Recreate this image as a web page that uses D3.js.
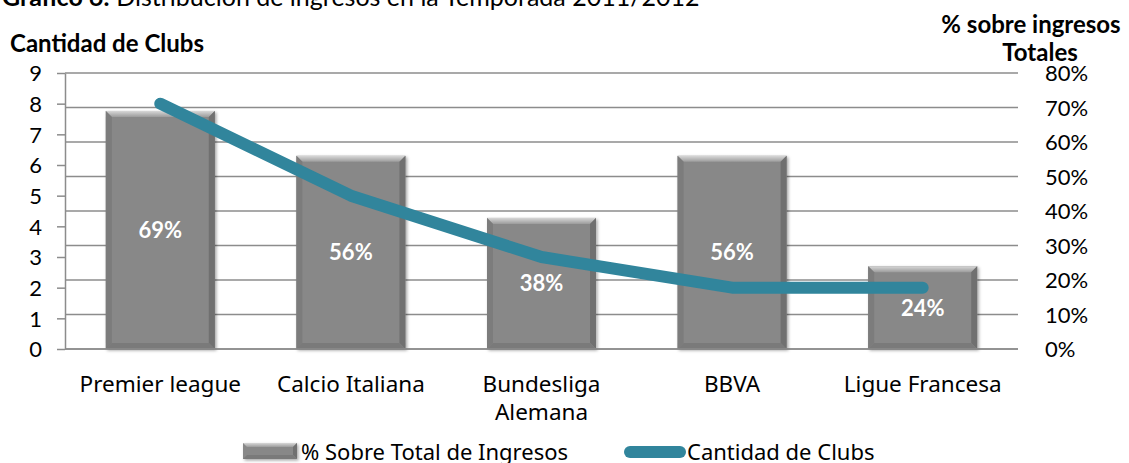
<!DOCTYPE html>
<html>
<head>
<meta charset="utf-8">
<script src="https://cdn.jsdelivr.net/npm/d3@7"></script>
<style>
  body { margin: 0; background: #fff; }
  svg { display: block; }
  .calib { font-family: Lato, "Open Sans", sans-serif; }
  .noto { font-family: "Noto Sans", sans-serif; }
</style>
</head>
<body>
<div id="chart"></div>
<script>
var categories = ["Premier league", "Calcio Italiana", "Bundesliga Alemana", "BBVA", "Ligue Francesa"];
var ingresosPct = [0.69, 0.56, 0.38, 0.56, 0.24];
var cantidadClubs = [8, 5, 3, 2, 2];
var leftTicks = [0, 1, 2, 3, 4, 5, 6, 7, 8, 9];
var rightTicks = [0, 0.1, 0.2, 0.3, 0.4, 0.5, 0.6, 0.7, 0.8];

var width = 1129, height = 463;
var plotLeft = 65, plotRight = 1018, plotTop = 73, plotBottom = 349;

var svg = d3.select("#chart").append("svg")
    .attr("width", width)
    .attr("height", height);

var defs = svg.append("defs");
var topGrad = defs.append("linearGradient").attr("id", "bevelTop")
    .attr("x1", 0).attr("y1", 0).attr("x2", 0).attr("y2", 1);
topGrad.append("stop").attr("offset", "0%").attr("stop-color", "#d8d8d8");
topGrad.append("stop").attr("offset", "100%").attr("stop-color", "#9c9c9c");
var shadow = defs.append("filter").attr("id", "shadow")
    .attr("x", "-10%").attr("y", "-10%").attr("width", "130%").attr("height", "130%");
shadow.append("feDropShadow").attr("dx", 1.5).attr("dy", 1.5).attr("stdDeviation", 1.5)
    .attr("flood-color", "#000").attr("flood-opacity", 0.35);

var x = d3.scaleBand()
    .domain(categories)
    .range([plotLeft, plotRight])
    .paddingInner(0.428)
    .paddingOuter(0.214);

var yL = d3.scaleLinear().domain([0, 9]).range([plotBottom, plotTop]);
var yR = d3.scaleLinear().domain([0, 0.8]).range([plotBottom, plotTop]);

// title (cut at top in the original)
var title = svg.append("text").attr("class", "calib")
    .attr("x", 2).attr("y", 6)
    .style("font-size", "25px").attr("fill", "#000");
title.append("tspan").style("font-weight", "bold").text("Gráfico 6:");
title.append("tspan").text(" Distribución de ingresos en la Temporada 2011/2012");

svg.append("text").attr("class", "calib")
    .attr("x", 10).attr("y", 52)
    .style("font-size", "24px").style("font-weight", "bold")
    .text("Cantidad de Clubs");

svg.append("text").attr("class", "calib")
    .attr("x", 1031).attr("y", 33).attr("text-anchor", "middle")
    .style("font-size", "24px").style("font-weight", "bold")
    .text("% sobre ingresos");
svg.append("text").attr("class", "calib")
    .attr("x", 1040).attr("y", 61).attr("text-anchor", "middle")
    .style("font-size", "24px").style("font-weight", "bold")
    .text("Totales");

// gridlines from right axis
svg.append("g").selectAll("line")
    .data(rightTicks)
    .enter().append("line")
    .attr("x1", plotLeft).attr("x2", plotRight)
    .attr("y1", function(d) { return yR(d); })
    .attr("y2", function(d) { return yR(d); })
    .attr("stroke", "#8c8c8c").attr("stroke-width", 1.5);

// left axis
var gL = svg.append("g").attr("transform", "translate(" + plotLeft + ",0)")
    .call(d3.axisLeft(yL).tickValues(leftTicks).tickSize(8).tickPadding(15).tickSizeOuter(0));
gL.select(".domain").attr("stroke", "#8c8c8c").attr("stroke-width", 1.5);
gL.selectAll(".tick line").attr("stroke", "#8c8c8c").attr("stroke-width", 1.5);
gL.selectAll(".tick text").attr("class", "calib").attr("fill", "#000")
    .style("font-size", "22px").attr("dy", "0.36em");

// right axis
var gR = svg.append("g").attr("transform", "translate(" + plotRight + ",0)")
    .call(d3.axisRight(yR).tickValues(rightTicks).tickSize(0).tickPadding(27)
      .tickFormat(d3.format(".0%")));
gR.select(".domain").remove();
gR.selectAll(".tick text").attr("class", "calib").attr("fill", "#000")
    .style("font-size", "22px").attr("dy", "0.36em");

// bars with bevel
var bev = 6;
var bars = svg.append("g").selectAll("g")
    .data(categories)
    .enter().append("g")
    .attr("filter", "url(#shadow)");

bars.each(function(c, i) {
  var g = d3.select(this);
  var x0 = x(c), x1 = x(c) + x.bandwidth();
  var y0 = yR(ingresosPct[i]), y1 = yR(0);
  g.append("rect").attr("x", x0).attr("y", y0)
      .attr("width", x1 - x0).attr("height", y1 - y0).attr("fill", "#888888");
  g.append("polygon").attr("fill", "url(#bevelTop)")
      .attr("points", [[x0, y0], [x1, y0], [x1 - bev, y0 + bev], [x0 + bev, y0 + bev]].join(" "));
  g.append("polygon").attr("fill", "#7b7b7b")
      .attr("points", [[x0, y0], [x0 + bev, y0 + bev], [x0 + bev, y1 - bev], [x0, y1]].join(" "));
  g.append("polygon").attr("fill", "#707070")
      .attr("points", [[x1, y0], [x1 - bev, y0 + bev], [x1 - bev, y1 - bev], [x1, y1]].join(" "));
  g.append("polygon").attr("fill", "#7a7a7a")
      .attr("points", [[x0, y1], [x0 + bev, y1 - bev], [x1 - bev, y1 - bev], [x1, y1]].join(" "));
});

// bottom axis line
svg.append("line")
    .attr("x1", plotLeft).attr("x2", plotRight)
    .attr("y1", plotBottom).attr("y2", plotBottom)
    .attr("stroke", "#8c8c8c").attr("stroke-width", 1.5);

// bar value labels
svg.append("g").selectAll("text")
    .data(categories)
    .enter().append("text")
    .attr("class", "calib")
    .attr("x", function(c) { return x(c) + x.bandwidth() / 2; })
    .attr("y", function(c, i) { return (yR(ingresosPct[i]) + yR(0)) / 2; })
    .attr("dy", "0.36em")
    .attr("text-anchor", "middle")
    .attr("fill", "#fff")
    .style("font-size", "22px").style("font-weight", "bold")
    .text(function(c, i) { return d3.format(".0%")(ingresosPct[i]); });

// line series
var line = d3.line()
    .x(function(c) { return x(c) + x.bandwidth() / 2; })
    .y(function(c, i) { return yL(cantidadClubs[i]); });

svg.append("path")
    .datum(categories)
    .attr("d", line)
    .attr("fill", "none")
    .attr("stroke", "#31859c")
    .attr("stroke-width", 12)
    .attr("stroke-linecap", "round")
    .attr("stroke-linejoin", "round");

// category labels
var xl = svg.append("g").selectAll("text")
    .data(categories)
    .enter().append("text")
    .attr("class", "noto")
    .attr("text-anchor", "middle")
    .attr("fill", "#000")
    .style("font-size", "22.5px")
    .attr("x", function(c) { return x(c) + x.bandwidth() / 2; })
    .attr("y", 392);
xl.each(function(c) {
  var t = d3.select(this);
  var parts = c === "Bundesliga Alemana" ? ["Bundesliga", "Alemana"] : [c];
  parts.forEach(function(p, k) {
    t.append("tspan").attr("x", x(c) + x.bandwidth() / 2).attr("dy", k === 0 ? 0 : 28).text(p);
  });
});

// legend
var leg = svg.append("g");
var lg1 = leg.append("g").attr("filter", "url(#shadow)");
var sx0 = 243, sx1 = 297, sy0 = 443, sy1 = 459, sb = 4;
lg1.append("rect").attr("x", sx0).attr("y", sy0).attr("width", sx1 - sx0).attr("height", sy1 - sy0).attr("fill", "#888888");
lg1.append("polygon").attr("fill", "url(#bevelTop)")
    .attr("points", [[sx0, sy0], [sx1, sy0], [sx1 - sb, sy0 + sb], [sx0 + sb, sy0 + sb]].join(" "));
lg1.append("polygon").attr("fill", "#707070")
    .attr("points", [[sx1, sy0], [sx1 - sb, sy0 + sb], [sx1 - sb, sy1 - sb], [sx1, sy1]].join(" "));
lg1.append("polygon").attr("fill", "#7a7a7a")
    .attr("points", [[sx0, sy1], [sx0 + sb, sy1 - sb], [sx1 - sb, sy1 - sb], [sx1, sy1]].join(" "));
leg.append("text").attr("class", "noto")
    .attr("x", 301).attr("y", 460)
    .style("font-size", "22px").attr("fill", "#000")
    .text("% Sobre Total de Ingresos");
leg.append("line")
    .attr("x1", 630).attr("x2", 680).attr("y1", 452).attr("y2", 452)
    .attr("stroke", "#31859c").attr("stroke-width", 12).attr("stroke-linecap", "round");
leg.append("text").attr("class", "noto")
    .attr("x", 687).attr("y", 460)
    .style("font-size", "22px").attr("fill", "#000")
    .text("Cantidad de Clubs");
</script>
</body>
</html>
